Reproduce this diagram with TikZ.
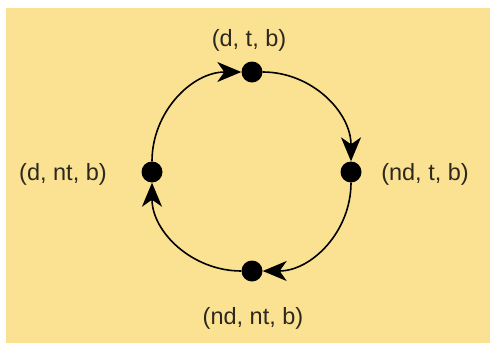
\documentclass[tikz,border=0pt]{standalone}
\usepackage{fontspec}
\setmainfont{Liberation Sans}
\usetikzlibrary{positioning, arrows.meta}
\definecolor{sand}{RGB}{250,226,146}
\definecolor{ink}{RGB}{45,40,30}

\begin{document}
\begin{tikzpicture}[x=1pt, y=-1pt,
	state/.style={circle, fill=black, inner sep=0pt, minimum size=21pt},
	lbl/.style={text=ink, font=\fontsize{23.5}{27}\selectfont},
	flow/.style={line width=1.6pt, looseness=1.0, -{Stealth[length=24pt, width=20pt, inset=7pt]}}]
	\useasboundingbox (0,0) rectangle (490,343);
	\fill[white] (0,0) rectangle (490,343);
	\fill[sand] (6,8) rectangle (490,343);
	% the four states
	\node[state] (dt)  at (252,72)  {};
	\node[state] (ndt) at (351,172) {};
	\node[state] (ndn) at (252,271) {};
	\node[state] (dn)  at (152,172) {};
	\node[lbl] (ldt)  at (249,40)  {(d, t, b)};
	\node[lbl] (lndt) at (425,174) {(nd, t, b)};
	\node[lbl] (lndn) at (253,318) {(nd, nt, b)};
	\node[lbl] (ldn)  at (63,174)  {(d, nt, b)};
	% transitions round the loop
	\draw[flow] (dn)  to[out=90,  in=180] (dt);
	\draw[flow] (dt)  to[out=0,   in=90]  (ndt);
	\draw[flow] (ndt) to[out=-90, in=0]   (ndn);
	\draw[flow] (ndn) to[out=180, in=-90] (dn);
\end{tikzpicture}
\end{document}
